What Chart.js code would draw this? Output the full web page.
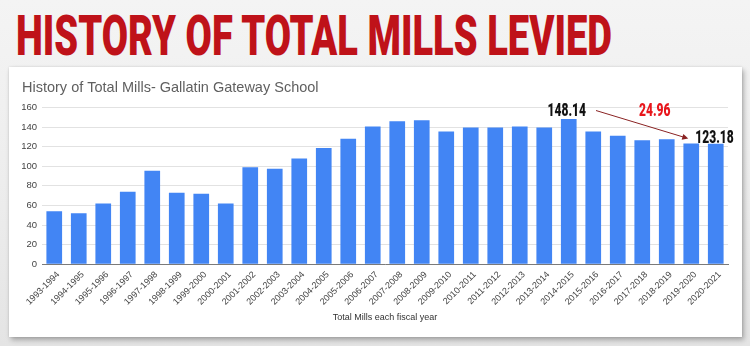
<!DOCTYPE html>
<html>
<head>
<meta charset="utf-8">
<script src="https://cdn.jsdelivr.net/npm/chart.js@4"></script>
<style>
  html, body { margin: 0; padding: 0; }
  body {
    width: 750px; height: 346px; overflow: hidden; position: relative;
    background: linear-gradient(180deg, #f4f4f4 0%, #ececec 60%, #e4e4e4 100%);
    font-family: "Liberation Sans", Arial, sans-serif;
  }
  #headline {
    position: absolute; left: 16px; top: 9px; margin: 0;
    font-family: Roboto, Lato, "Liberation Sans", sans-serif;
    font-weight: 900; font-size: 55px; line-height: 1;
    color: #bf1219;
    white-space: nowrap; transform-origin: 0 0; letter-spacing: 0;
  }
  #card {
    position: absolute; left: 9px; top: 67px; width: 733px; height: 270px;
    background: #fff;
    box-shadow: 2px 3px 5px rgba(0, 0, 0, 0.28), 0 0 2px rgba(0, 0, 0, 0.12);
  }
  #card canvas { display: block; }
</style>
</head>
<body>
<h1 id="headline">HISTORY OF TOTAL MILLS LEVIED</h1>
<div id="card"><canvas id="mills" width="733" height="270"></canvas></div>
<script>
// Fiscal years shown on the category axis
const fiscalYears = [
  "1993-1994", "1994-1995", "1995-1996", "1996-1997", "1997-1998", "1998-1999", "1999-2000",
  "2000-2001", "2001-2002", "2002-2003", "2003-2004", "2004-2005", "2005-2006", "2006-2007",
  "2007-2008", "2008-2009", "2009-2010", "2010-2011", "2011-2012", "2012-2013", "2013-2014",
  "2014-2015", "2015-2016", "2016-2017", "2017-2018", "2018-2019", "2019-2020", "2020-2021"
];

// Total mills levied each fiscal year
const totalMills = [
  54, 52, 62, 74, 95.5, 73, 72,
  62, 99, 97.5, 108, 118.5, 128, 140.5,
  146, 147, 135.5, 139.5, 139.5, 140.5, 139.5,
  148.14, 135.5, 131, 126.5, 127.5, 123.18, 123
];

// Value axis ticks
const millTicks = [0, 20, 40, 60, 80, 100, 120, 140, 160];

// Years compared in the callout
const peakYear = "2014-2015";
const recentYear = "2019-2020";

// Fit the red headline to its width
(function fitHeadline() {
  const h = document.getElementById("headline");
  const w = h.getBoundingClientRect().width;
  h.style.transform = "scaleX(" + (596 / w) + ")";
})();

const HEAVY = 'Roboto, Lato, "Liberation Sans", sans-serif';

// Draw text squeezed horizontally by sx, anchored at (x, y)
function squeezedText(ctx, text, x, y, align, sx) {
  const w = ctx.measureText(text).width * sx;
  let left = x;
  if (align === "center") left = x - w / 2;
  else if (align === "right") left = x - w;
  ctx.save();
  ctx.translate(left, y);
  ctx.scale(sx, 1);
  ctx.textAlign = "left";
  ctx.fillText(text, 0, 0);
  ctx.restore();
  return w;
}

// Callout: peak value, recent value, and the drop between them
const dropCallout = {
  id: "dropCallout",
  afterDatasetsDraw(chart) {
    const { ctx, scales: { x, y } } = chart;
    const iPeak = fiscalYears.indexOf(peakYear);
    const iRecent = fiscalYears.indexOf(recentYear);
    const hi = totalMills[iPeak];
    const lo = totalMills[iRecent];
    const hiText = hi.toFixed(2), loText = lo.toFixed(2);
    const drop = (hi - lo).toFixed(2);

    ctx.save();
    ctx.font = "900 17.5px " + HEAVY;
    ctx.textBaseline = "alphabetic";
    const sx = 38.5 / ctx.measureText(hiText).width;

    const hx = x.getPixelForValue(iPeak) - 2;
    const hy = y.getPixelForValue(hi) - 3;
    ctx.fillStyle = "#111";
    const hw = squeezedText(ctx, hiText, hx, hy, "center", sx);

    const lx = x.getPixelForValue(iRecent) + 4;
    const ly = y.getPixelForValue(lo) - 0.5;
    squeezedText(ctx, loText, lx, ly, "left", sx);

    ctx.fillStyle = "#e8161c";
    squeezedText(ctx, drop, hx + 88, hy, "center", sx);

    // arrow from the peak label toward the recent value
    const x0 = hx + hw / 2 + 10, y0 = hy - 5.5;
    const x1 = lx - 7, y1 = ly - 4.5;
    const ang = Math.atan2(y1 - y0, x1 - x0);
    ctx.strokeStyle = "#8a2323";
    ctx.fillStyle = "#8a2323";
    ctx.lineWidth = 1;
    ctx.beginPath();
    ctx.moveTo(x0, y0);
    ctx.lineTo(x1 - 4 * Math.cos(ang), y1 - 4 * Math.sin(ang));
    ctx.stroke();
    ctx.beginPath();
    ctx.moveTo(x1, y1);
    ctx.lineTo(x1 - 6 * Math.cos(ang) + 3 * Math.sin(ang), y1 - 6 * Math.sin(ang) - 3 * Math.cos(ang));
    ctx.lineTo(x1 - 6 * Math.cos(ang) - 3 * Math.sin(ang), y1 - 6 * Math.sin(ang) + 3 * Math.cos(ang));
    ctx.closePath();
    ctx.fill();
    ctx.restore();
  }
};

new Chart(document.getElementById("mills"), {
  type: "bar",
  data: {
    labels: fiscalYears,
    datasets: [{
      label: "Total Mills",
      data: totalMills,
      backgroundColor: "#4285f4",
      borderWidth: 0,
      barPercentage: 0.64,
      categoryPercentage: 1
    }]
  },
  options: {
    responsive: false,
    animation: false,
    devicePixelRatio: 1,
    layout: { padding: { left: 13, right: 14, top: 0, bottom: 8 } },
    plugins: {
      legend: { display: false },
      tooltip: { enabled: false },
      title: {
        display: true,
        text: "History of Total Mills- Gallatin Gateway School",
        align: "start",
        color: "#5f5f5f",
        font: { family: '"Liberation Sans", Arial, sans-serif', size: 14.5, weight: "normal" },
        padding: { top: 12, bottom: 11 }
      }
    },
    scales: {
      x: {
        grid: { display: false, drawTicks: false },
        border: { display: true, color: "#7a7a7a", width: 1 },
        ticks: {
          autoSkip: false, minRotation: 45, maxRotation: 45, padding: 5, labelOffset: 4,
          color: "#444",
          font: { family: '"Liberation Sans", Arial, sans-serif', size: 9 }
        },
        title: {
          display: true,
          text: "Total Mills each fiscal year",
          color: "#333",
          font: { family: '"Liberation Sans", Arial, sans-serif', size: 9 },
          padding: { top: 0, bottom: 5.6 }
        },
        afterFit(scale) { scale.height = 64.7; }
      },
      y: {
        min: 0, max: 160,
        afterBuildTicks(scale) { scale.ticks = millTicks.map(v => ({ value: v })); },
        grid: { color: "#e2e2e2", drawTicks: false },
        border: { display: false },
        ticks: {
          padding: 5, color: "#444",
          font: { family: '"Liberation Sans", Arial, sans-serif', size: 9.5 }
        },
        afterFit(scale) { scale.width = 20; }
      }
    }
  },
  plugins: [dropCallout]
});
</script>
</body>
</html>
